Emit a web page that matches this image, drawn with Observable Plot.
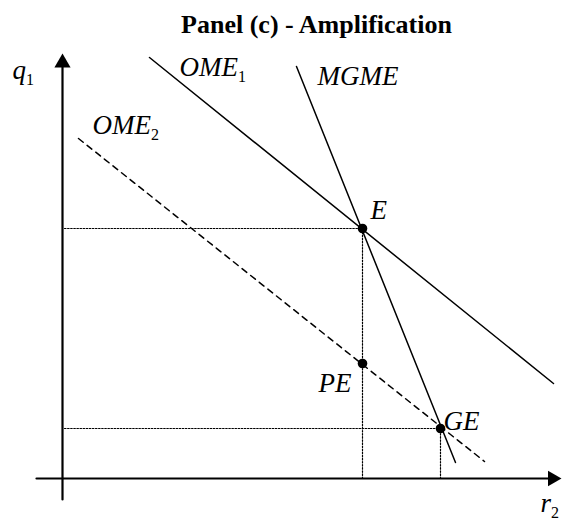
<!DOCTYPE html>
<html>
<head>
<meta charset="utf-8">
<script src="https://cdn.jsdelivr.net/npm/d3@7"></script>
<script src="https://cdn.jsdelivr.net/npm/@observablehq/plot@0.6"></script>
<style>
  html, body { margin: 0; padding: 0; background: #fff; }
  #chart { width: 563px; height: 523px; }
  #chart svg text { font-family: "Liberation Serif", "Times New Roman", "DejaVu Serif", serif; }
</style>
</head>
<body>
<div id="chart"></div>
<script>
// ---- data (abstract diagram units) ----
const titleText = "Panel (c) - Amplification";

// curve end points [x, y]
const ome1 = [[1.74, 8.42], [9.82, 1.90]];
const mgme = [[4.68, 8.24], [7.86, 0.32]];
const ome2 = [[0.32, 6.80], [8.44, 0.34]];

// equilibrium points
const pointNames = ["E", "PE", "GE"];
const pointX = [6.0, 6.0, 7.56];
const pointY = [5.0, 2.3, 1.0];

// curve / point labels ("_" marks a subscript)
const labelText = ["OME_1", "MGME", "OME_2", "E", "PE", "GE"];
const labelX = [2.34, 5.10, 0.60, 6.16, 5.12, 7.62];
const labelY = [8.06, 7.88, 6.90, 5.20, 1.74, 0.98];

// axis titles
const axisText = ["q_1", "r_2"];
const axisX = [-1.0, 9.56];
const axisY = [8.0, -0.66];

// axis extents
const xAxisRange = [-0.52, 9.8];
const yAxisRange = [-0.42, 8.3];

// ---- build tables ----
const points = pointNames.map((n, i) => ({name: n, x: pointX[i], y: pointY[i]}));
const labels = labelText.map((t, i) => ({text: t, x: labelX[i], y: labelY[i]}));
const axisLabels = axisText.map((t, i) => ({text: t, x: axisX[i], y: axisY[i]}));
const E = points[0], GE = points[2];

const black = "#000";
const serif = "Liberation Serif";
const dotted = {stroke: black, strokeWidth: 1.2, strokeDasharray: "1.5,1.6"};

const svg = Plot.plot({
  width: 563,
  height: 523,
  marginLeft: 62,
  marginRight: 1,
  marginTop: 53,
  marginBottom: 45,
  x: {domain: [0, 10], axis: null},
  y: {domain: [0, 8.5], axis: null},
  style: {fontFamily: serif, background: "#fff", color: "#000"},
  marks: [
    // dotted guide lines
    Plot.line([[0.04, E.y], [E.x, E.y]], dotted),
    Plot.line([[E.x, 0], [E.x, E.y]], dotted),
    Plot.line([[0.04, GE.y], [GE.x, GE.y]], dotted),
    Plot.line([[GE.x, 0], [GE.x, GE.y]], dotted),
    // axes
    Plot.line([[xAxisRange[0], 0], [xAxisRange[1], 0]], {stroke: black, strokeWidth: 2.2}),
    Plot.line([[0, yAxisRange[0]], [0, yAxisRange[1]]], {stroke: black, strokeWidth: 2.2}),
    Plot.dot([[0, 8.5]], {symbol: "triangle", r: 6, fill: black, stroke: null, dy: 9.3}),
    Plot.dot([[10, 0]], {symbol: "triangle", r: 5.8, fill: black, stroke: null, rotate: 90, dx: -10}),
    // curves
    Plot.line(ome1, {stroke: black, strokeWidth: 1.5}),
    Plot.line(mgme, {stroke: black, strokeWidth: 1.5}),
    Plot.line(ome2, {stroke: black, strokeWidth: 1.5, strokeDasharray: "6,5"}),
    // points
    Plot.dot(points, {x: "x", y: "y", r: 4.8, fill: black, stroke: null}),
    // labels
    Plot.text(labels, {x: "x", y: "y", text: "text", textAnchor: "start", lineAnchor: "bottom",
      fontFamily: serif, fontSize: 27, fontStyle: "italic", fill: black}),
    Plot.text(axisLabels, {x: "x", y: "y", text: "text", textAnchor: "start", lineAnchor: "bottom",
      fontFamily: serif, fontSize: 27, fontStyle: "italic", fill: black}),
    // title
    Plot.text([titleText], {frameAnchor: "top", dx: 4, dy: -21, text: d => d, lineAnchor: "bottom",
      fontFamily: serif, fontSize: 26, fontWeight: "bold", fill: black})
  ]
});

// turn "A_b" into A with an upright subscript b
svg.querySelectorAll("text").forEach(t => {
  const s = t.textContent;
  if (s.includes("_") && t.children.length === 0) {
    const [main, sub] = s.split("_");
    t.textContent = main;
    const ts = document.createElementNS("http://www.w3.org/2000/svg", "tspan");
    ts.setAttribute("font-style", "normal");
    ts.setAttribute("font-size", "16");
    ts.setAttribute("dy", "6");
    ts.textContent = sub;
    t.appendChild(ts);
  }
});

document.getElementById("chart").appendChild(svg);
</script>
</body>
</html>
